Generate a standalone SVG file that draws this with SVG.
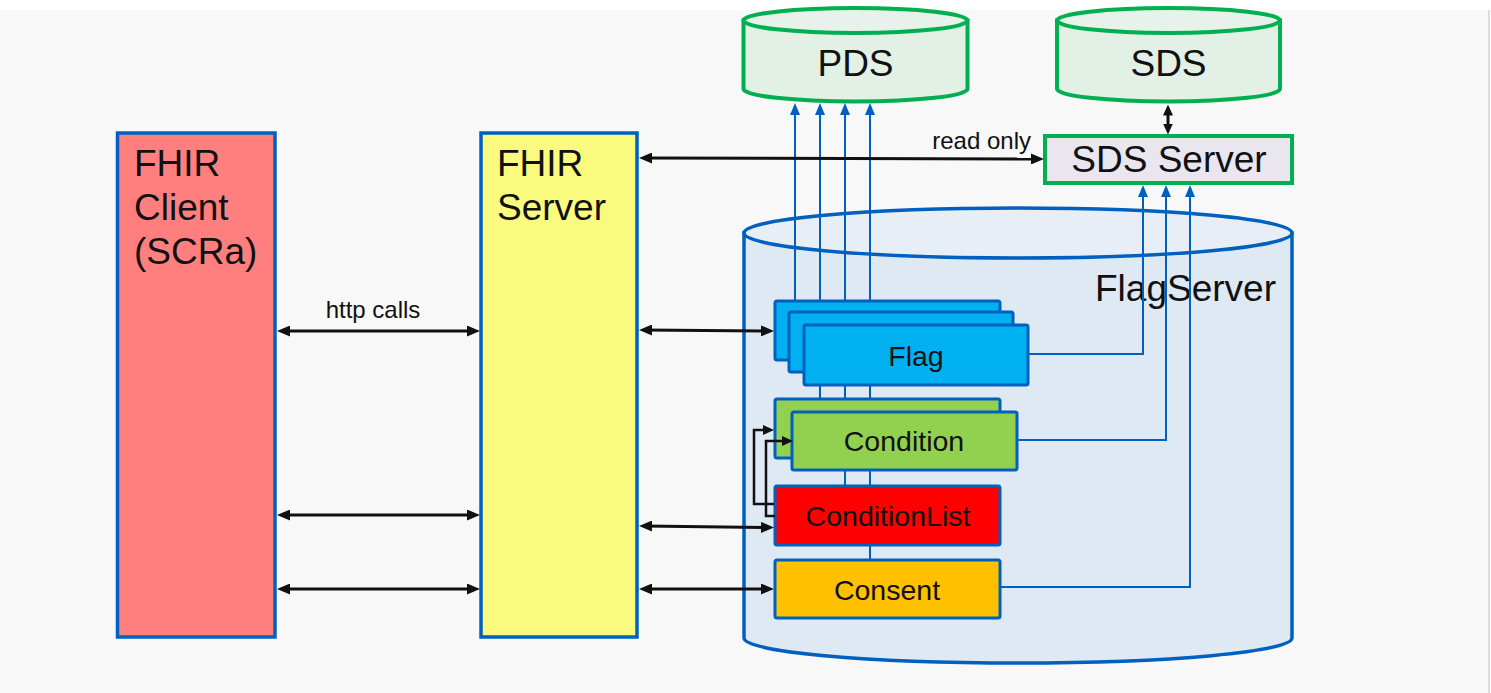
<svg xmlns="http://www.w3.org/2000/svg" width="1491" height="693" viewBox="0 0 1491 693">
  <style>
    .t { font-family: "Liberation Sans", Arial, sans-serif; fill: #111111; }
    .big { font-size: 37px; }
    .mid { font-size: 28.5px; }
    .sm { font-size: 24px; }
    .box { stroke: #0060C0; stroke-width: 3.5; }
    .ibox { stroke: #0060C0; stroke-width: 3; }
    .grn { stroke: #00B050; stroke-width: 4; }
    .blk { fill: none; stroke: #111111; stroke-width: 3; }
    .loop { fill: none; stroke: #111111; stroke-width: 2.5; }
    .blu { fill: none; stroke: #0060C0; stroke-width: 2; }
  </style>
  <defs>
    <marker id="ah" viewBox="0 0 13 11" refX="8" refY="5.5" markerWidth="13" markerHeight="11" markerUnits="userSpaceOnUse" orient="auto-start-reverse">
      <path d="M0,0 L13,5.5 L0,11 z" fill="#111111"/>
    </marker>
    <marker id="ahs" viewBox="0 0 11 10" refX="6" refY="5" markerWidth="11" markerHeight="10" markerUnits="userSpaceOnUse" orient="auto-start-reverse">
      <path d="M0,0 L11,5 L0,10 z" fill="#111111"/>
    </marker>
    <marker id="ahb" viewBox="0 0 12 10" refX="7" refY="5" markerWidth="12" markerHeight="10" markerUnits="userSpaceOnUse" orient="auto">
      <path d="M0,0 L12,5 L0,10 z" fill="#0060C0"/>
    </marker>
  </defs>

  <rect x="0" y="0" width="1491" height="693" fill="#FFFFFF"/>
  <rect x="0" y="10" width="1488" height="683" fill="#F8F8F8"/>
  <line x1="1489" y1="10" x2="1489" y2="693" stroke="#D0D0D0" stroke-width="1.5"/>

  <g id="fhir-client">
    <rect class="box" x="117.5" y="133" width="157.5" height="504" fill="#FF7F7F"/>
    <text class="t big" x="134" y="176">FHIR</text>
    <text class="t big" x="134" y="220">Client</text>
    <text class="t big" x="134" y="264">(SCRa)</text>
  </g>

  <g id="fhir-server">
    <rect class="box" x="481" y="133" width="156" height="504" fill="#FAFA7F"/>
    <text class="t big" x="497" y="176">FHIR</text>
    <text class="t big" x="497" y="220">Server</text>
  </g>

  <g id="pds">
    <path class="grn" d="M743.5,20.5 V89 A112,12.5 0 0 0 967.5,89 V20.5 Z" fill="#E2F0E6"/>
    <ellipse class="grn" cx="855.5" cy="20.5" rx="112" ry="12.5" fill="#E6F2EA"/>
    <text class="t big" x="855.5" y="76" text-anchor="middle">PDS</text>
  </g>

  <g id="sds">
    <path class="grn" d="M1057,20.5 V89 A111.5,12.5 0 0 0 1280,89 V20.5 Z" fill="#E2F0E6"/>
    <ellipse class="grn" cx="1168.5" cy="20.5" rx="111.5" ry="12.5" fill="#E6F2EA"/>
    <text class="t big" x="1168.5" y="76" text-anchor="middle">SDS</text>
  </g>

  <g id="flagserver">
    <path class="box" d="M744,233 V638 A274,25 0 0 0 1292,638 V233 Z" fill="#DFE9F3"/>
    <ellipse class="box" cx="1018" cy="233" rx="274" ry="25" fill="#E8EEF6"/>
    <text class="t big" x="1095" y="301">FlagServer</text>
  </g>

  <g id="connectors-pds">
    <path class="blu" d="M795,301 V108" marker-end="url(#ahb)"/>
    <path class="blu" d="M820,399 V108" marker-end="url(#ahb)"/>
    <path class="blu" d="M845,486 V108" marker-end="url(#ahb)"/>
    <path class="blu" d="M870,559 V108" marker-end="url(#ahb)"/>
  </g>

  <g id="flag">
    <rect class="ibox" x="775" y="301" width="225" height="59" rx="2" fill="#00B0F0"/>
    <rect class="ibox" x="789" y="312" width="224" height="60" rx="2" fill="#00B0F0"/>
    <rect class="ibox" x="804" y="325" width="224" height="60" rx="2" fill="#00B0F0"/>
    <text class="t mid" x="916" y="366" text-anchor="middle">Flag</text>
  </g>

  <g id="condition">
    <rect class="ibox" x="775" y="399" width="225" height="59" rx="2" fill="#92D050"/>
    <rect class="ibox" x="792" y="412" width="225" height="58" rx="2" fill="#92D050"/>
    <text class="t mid" x="904" y="451" text-anchor="middle">Condition</text>
  </g>

  <g id="conditionlist">
    <rect class="ibox" x="775" y="486" width="225" height="59" rx="2" fill="#FF0000"/>
    <text class="t mid" x="888" y="526" text-anchor="middle">ConditionList</text>
  </g>

  <g id="consent">
    <rect class="ibox" x="775" y="560" width="225" height="58" rx="2" fill="#FFC000"/>
    <text class="t mid" x="887" y="600" text-anchor="middle">Consent</text>
  </g>

  <g id="sds-server">
    <rect class="grn" x="1045" y="136" width="247" height="47" fill="#EAE6F0"/>
    <text class="t big" x="1169" y="172" text-anchor="middle">SDS Server</text>
  </g>

  <g id="connectors">
    <path class="blu" d="M1028,354 H1143 V190" marker-end="url(#ahb)"/>
    <path class="blu" d="M1017,440 H1166 V190" marker-end="url(#ahb)"/>
    <path class="blu" d="M1000,587 H1190 V190" marker-end="url(#ahb)"/>

    <path class="blk" d="M282,331 H475" marker-start="url(#ah)" marker-end="url(#ah)"/>
    <text class="t sm" x="373" y="318" text-anchor="middle">http calls</text>
    <path class="blk" d="M282,515 H475" marker-start="url(#ah)" marker-end="url(#ah)"/>
    <path class="blk" d="M282,589 H475" marker-start="url(#ah)" marker-end="url(#ah)"/>

    <path class="blk" d="M644,330 L769,331" marker-start="url(#ah)" marker-end="url(#ah)"/>
    <path class="blk" d="M644,526 L769,527.5" marker-start="url(#ah)" marker-end="url(#ah)"/>
    <path class="blk" d="M644,589 H769" marker-start="url(#ah)" marker-end="url(#ah)"/>

    <path class="blk" d="M644,158 L1039,159" marker-start="url(#ah)" marker-end="url(#ah)"/>
    <text class="t sm" x="1031" y="149" text-anchor="end">read only</text>

    <path class="loop" d="M774,504 H754 V430 H769" marker-end="url(#ahs)"/>
    <path class="loop" d="M775,516 H766 V441 H788" marker-end="url(#ahs)"/>

    <path class="blk" d="M1168,109.5 V129.5" marker-start="url(#ahs)" marker-end="url(#ahs)"/>
  </g>
</svg>
